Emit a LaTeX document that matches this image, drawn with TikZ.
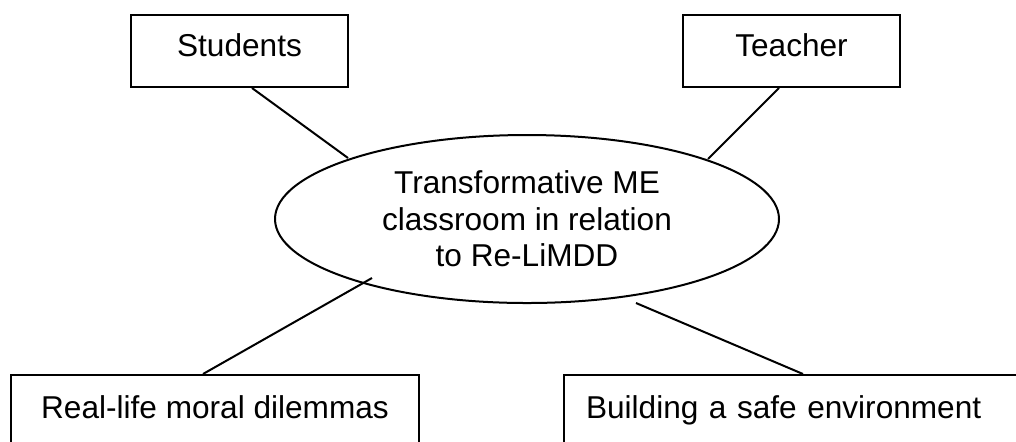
\documentclass[tikz,border=0pt]{standalone}
\usepackage{fontspec}
\setmainfont{Liberation Sans}
\usetikzlibrary{shapes.geometric}
\begin{document}
\begin{tikzpicture}[x=0.5pt,y=-0.5pt,
  every node/.style={font=\fontsize{15.8pt}{18.25pt}\selectfont},
  topbox/.style={draw, line width=1pt, rectangle, inner xsep=0pt, inner ysep=0pt,
    minimum width=108.5pt, text height=20.5pt, text depth=15.5pt},
  lowbox/.style={draw, line width=1pt, rectangle, inner ysep=0pt,
    text height=21.5pt, text depth=30pt},
  hub/.style={draw, line width=1pt, ellipse, inner sep=0pt,
    minimum width=252pt, minimum height=84pt, align=center},
  link/.style={line width=1pt}]
  \useasboundingbox (0,0) rectangle (1016,441);
  \clip (0,0) rectangle (1016,441);

  % central concept
  \node[hub] (ell) at (527,219) {Transformative ME\\classroom in relation\\to Re-LiMDD};

  % upper boxes
  \node[topbox] (stu) at (239.5,51) {Students};
  \node[topbox] (tea) at (791.5,51) {Teacher};

  % lower boxes (run past the picture's lower and right edges)
  \node[lowbox, anchor=north, minimum width=204pt, inner xsep=0pt] (dil) at (215,374)
    {Real-life moral dilemmas};
  \node[lowbox, anchor=north west, inner xsep=11pt, text width=218pt, align=left] (env) at (563,374)
    {Building a safe environment};

  % connectors
  \draw[link] ([shift={(12.5,0)}]stu.south) -- ([shift={(-179,-61)}]ell.center);
  \draw[link] ([shift={(-12.5,0)}]tea.south) -- ([shift={(181,-60)}]ell.center);
  \draw[link] ([shift={(-12,0)}]dil.north) -- ([shift={(-155,59)}]ell.center);
  \draw[link] ([shift={(240,0)}]env.north west) -- ([shift={(109,84)}]ell.center);
\end{tikzpicture}
\end{document}
